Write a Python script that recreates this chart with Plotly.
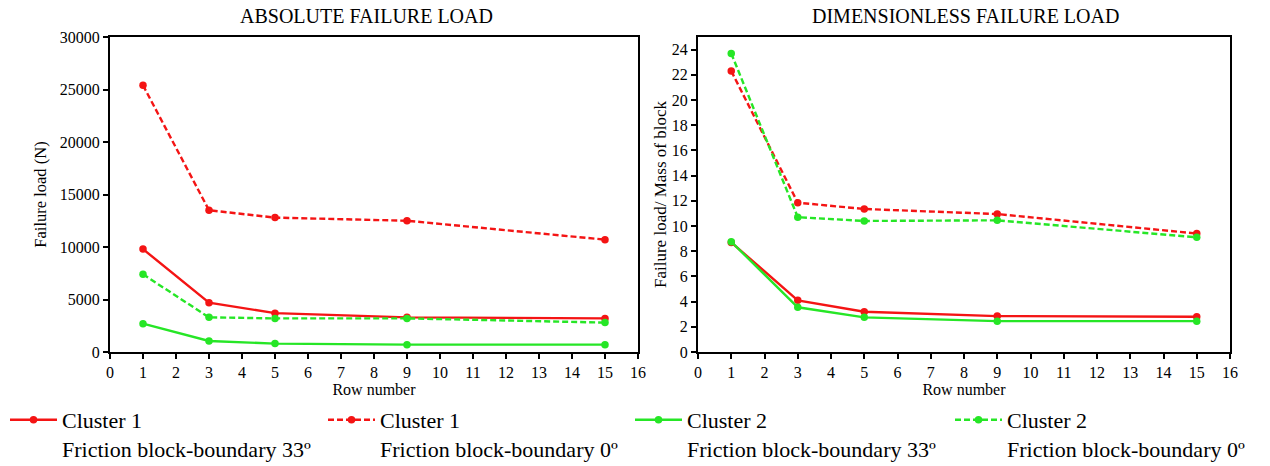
import plotly.graph_objects as go

rows = [1, 3, 5, 9, 15]

# Absolute failure load (N)
abs_c1_33 = [9800, 4700, 3700, 3300, 3200]
abs_c1_0 = [25400, 13500, 12800, 12500, 10700]
abs_c2_33 = [2700, 1050, 800, 700, 700]
abs_c2_0 = [7400, 3300, 3200, 3200, 2800]

# Dimensionless failure load
dim_c1_33 = [8.7, 4.1, 3.2, 2.85, 2.8]
dim_c1_0 = [22.3, 11.85, 11.35, 10.95, 9.4]
dim_c2_33 = [8.75, 3.55, 2.75, 2.45, 2.45]
dim_c2_0 = [23.7, 10.7, 10.4, 10.45, 9.1]

legend_names = [
    "Cluster 1<br>Friction block-boundary 33º",
    "Cluster 1<br>Friction block-boundary 0º",
    "Cluster 2<br>Friction block-boundary 33º",
    "Cluster 2<br>Friction block-boundary 0º",
]

RED = "#f41414"
GREEN = "#26e626"
W, H = 1270, 466
FONT = "Liberation Serif"

styles = [(RED, "solid"), (RED, "dash"), (GREEN, "solid"), (GREEN, "dash")]
legend_ids = ["legend", "legend2", "legend3", "legend4"]
legend_x_px = [5, 323, 630, 950]

fig = go.Figure()
abs_series = [abs_c1_33, abs_c1_0, abs_c2_33, abs_c2_0]
dim_series = [dim_c1_33, dim_c1_0, dim_c2_33, dim_c2_0]

for i, (ys, (col, dash)) in enumerate(zip(abs_series, styles)):
    fig.add_trace(go.Scatter(
        x=rows, y=ys, mode="lines+markers", name=legend_names[i],
        line=dict(color=col, width=2.4, dash="6px,3px" if dash == "dash" else "solid"),
        marker=dict(color=col, size=7.5), xaxis="x", yaxis="y",
        legend=legend_ids[i], legendgroup=str(i), showlegend=True))
for i, (ys, (col, dash)) in enumerate(zip(dim_series, styles)):
    fig.add_trace(go.Scatter(
        x=rows, y=ys, mode="lines+markers", name=legend_names[i],
        line=dict(color=col, width=2.4, dash="6px,3px" if dash == "dash" else "solid"),
        marker=dict(color=col, size=7.5), xaxis="x2", yaxis="y2",
        legend=legend_ids[i], legendgroup=str(i), showlegend=False))

ydom = [1 - 352 / H, 1 - 37 / H]
axis_common = dict(showline=True, linecolor="black", linewidth=2, mirror=True,
                   ticks="outside", ticklen=5, tickwidth=1.5, tickcolor="black",
                   showgrid=False, zeroline=False, tickformat="d",
                   tickfont=dict(family=FONT, size=16, color="black"))

legend_common = dict(orientation="v", xanchor="left", yanchor="top",
                     y=1 - 399 / H,
                     font=dict(family=FONT, size=22, color="black"),
                     itemwidth=47, valign="top", bgcolor="rgba(0,0,0,0)")

layout_legends = {}
for lid, xp in zip(legend_ids, legend_x_px):
    layout_legends[lid] = dict(x=xp / W, **legend_common)

fig.update_layout(
    width=W, height=H,
    margin=dict(l=0, r=0, t=0, b=0, autoexpand=False),
    paper_bgcolor="white", plot_bgcolor="white",
    font=dict(family=FONT, color="black"),
    xaxis=dict(domain=[110 / W, 638 / W], range=[0, 16], dtick=1, anchor="y",
               title=dict(text="Row number", font=dict(size=16), standoff=4),
               **axis_common),
    yaxis=dict(domain=ydom, range=[0, 30000], dtick=5000, anchor="x",
               title=dict(text="Failure load (N)", font=dict(size=16.5), standoff=9),
               **axis_common),
    xaxis2=dict(domain=[698 / W, 1230 / W], range=[0, 16], dtick=1, anchor="y2",
                title=dict(text="Row number", font=dict(size=16), standoff=4),
                **axis_common),
    yaxis2=dict(domain=ydom, range=[0, 25], tickvals=list(range(0, 25, 2)), anchor="x2",
                title=dict(text="Failure load/ Mass of block", font=dict(size=17), standoff=1),
                **axis_common),
    annotations=[
        dict(text="ABSOLUTE FAILURE LOAD", x=367 / W, y=1 - 16 / H, xref="paper", yref="paper",
             xanchor="center", yanchor="middle",
             showarrow=False, font=dict(family=FONT, size=20, color="black")),
        dict(text="DIMENSIONLESS FAILURE LOAD", x=965 / W, y=1 - 16 / H, xref="paper", yref="paper",
             xanchor="center", yanchor="middle",
             showarrow=False, font=dict(family=FONT, size=20, color="black")),
    ],
    **layout_legends,
)

fig.write_html("out.html", config={"displayModeBar": False},
               post_script="document.body.style.margin='0';document.body.style.overflow='hidden';")
